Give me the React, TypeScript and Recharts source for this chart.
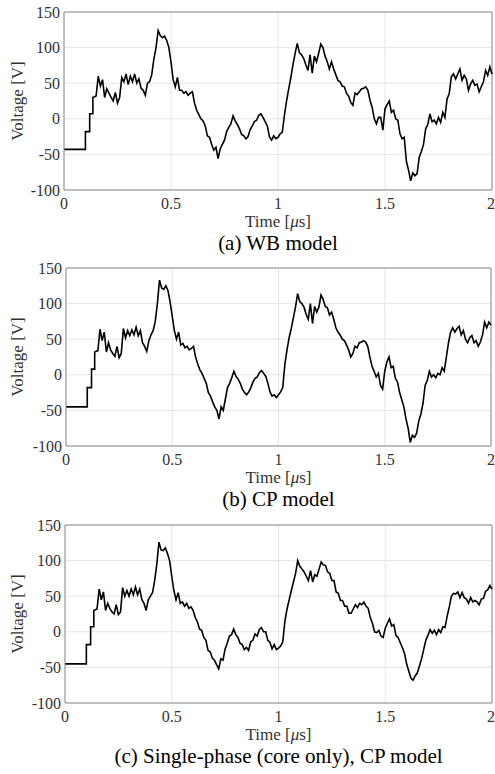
import React from "react";
import {
  LineChart,
  Line,
  XAxis,
  YAxis,
  CartesianGrid,
  ReferenceLine,
} from "recharts";

// time axis in microseconds (the first points trace the staircase at the start)
const timeUs = [
  0, 0.1, 0.1, 0.12, 0.12, 0.135, 0.135, 0.15,
  0.16, 0.17, 0.18, 0.19,
  0.2, 0.21, 0.22, 0.23, 0.24, 0.25, 0.26, 0.27, 0.28, 0.29,
  0.3, 0.31, 0.32, 0.33, 0.34, 0.35, 0.36, 0.37, 0.38, 0.39,
  0.4, 0.41, 0.42, 0.43, 0.44, 0.45, 0.46, 0.47, 0.48, 0.49,
  0.5, 0.51, 0.52, 0.53, 0.54, 0.55, 0.56, 0.57, 0.58, 0.59,
  0.6, 0.61, 0.62, 0.63, 0.64, 0.65, 0.66, 0.67, 0.68, 0.69,
  0.7, 0.71, 0.72, 0.73, 0.74, 0.75, 0.76, 0.77, 0.78, 0.79,
  0.8, 0.81, 0.82, 0.83, 0.84, 0.85, 0.86, 0.87, 0.88, 0.89,
  0.9, 0.91, 0.92, 0.93, 0.94, 0.95, 0.96, 0.97, 0.98, 0.99,
  1.0, 1.01, 1.02, 1.03, 1.04, 1.05, 1.06, 1.07, 1.08, 1.09,
  1.1, 1.11, 1.12, 1.13, 1.14, 1.15, 1.16, 1.17, 1.18, 1.19,
  1.2, 1.21, 1.22, 1.23, 1.24, 1.25, 1.26, 1.27, 1.28, 1.29,
  1.3, 1.31, 1.32, 1.33, 1.34, 1.35, 1.36, 1.37, 1.38, 1.39,
  1.4, 1.41, 1.42, 1.43, 1.44, 1.45, 1.46, 1.47, 1.48, 1.49,
  1.5, 1.51, 1.52, 1.53, 1.54, 1.55, 1.56, 1.57, 1.58, 1.59,
  1.6, 1.61, 1.62, 1.63, 1.64, 1.65, 1.66, 1.67, 1.68, 1.69,
  1.7, 1.71, 1.72, 1.73, 1.74, 1.75, 1.76, 1.77, 1.78, 1.79,
  1.8, 1.81, 1.82, 1.83, 1.84, 1.85, 1.86, 1.87, 1.88, 1.89,
  1.9, 1.91, 1.92, 1.93, 1.94, 1.95, 1.96, 1.97, 1.98, 1.99,
  2.0,
];

// (a) WB model
const wbVolt = [
  -43, -43, -18, -18, 7, 7, 30, 32,
  60, 46, 55, 30,
  42, 36, 30, 25, 37, 22, 30, 58, 52, 63,
  48, 60, 52, 63, 50, 56, 43, 40, 33, 50,
  52, 62, 84, 100, 124, 117, 114, 116, 110, 100,
  80, 55, 45, 58, 40, 40, 36, 38, 33, 36,
  38, 22, 12, 6, 0, -3, -10, -24, -26, -36,
  -44, -40, -56, -42, -36, -30, -18, -12, -7, 4,
  -3, -8, -14, -22, -24, -28, -25, -15, -10, -4,
  -2, 5, 7, 2, -4, -10, -25, -30, -24, -28,
  -26, -21, -19, 5, 25, 42, 58, 76, 92, 106,
  93, 90, 85, 76, 68, 90, 64, 88, 80, 92,
  105, 100, 88, 80, 70, 80, 70, 62, 54, 52,
  46, 45, 36, 32, 23, 19, 36, 34, 38, 42,
  43, 45, 40, 26, 16, 0, -7, 2, 2, -16,
  14, 20, 25, 9, 12, 0, -2, -21, -28, -26,
  -60, -72, -87, -76, -80, -77, -54, -46, -36, -14,
  -8, 7, -4, -2, -7, 2, -5, 9, 2, 28,
  35, 59, 63, 56, 63, 70, 54, 61, 56, 40,
  49, 54, 47, 49, 38, 45, 52, 68, 61, 73,
  63,
];

// (b) CP model
const cpVolt = [
  -45, -45, -18, -18, 8, 8, 32, 34,
  64, 48, 60, 32,
  45, 35, 30, 26, 40, 24, 30, 65, 52, 62,
  55, 63, 56, 67, 55, 62, 45, 40, 33, 48,
  56, 62, 75, 100, 133, 122, 120, 125, 118, 102,
  82, 62, 50, 60, 42, 44, 38, 40, 35, 37,
  40, 25, 15, 7, 2, -5, -12, -25, -30, -38,
  -45, -50, -62, -45, -50, -34, -18, -12, -4, 5,
  -2, -6, -12, -20, -25, -28, -24, -18, -10, -5,
  -3, 3, 6, 2, -2, -12, -24, -30, -28, -32,
  -28, -24, -18, 15, 35, 52, 65, 80, 95, 114,
  103, 100, 95, 85, 78, 100, 72, 96, 88, 95,
  112, 106, 96, 94, 84, 88, 78, 66, 60, 56,
  50, 48, 42, 35, 25, 30, 40, 38, 45, 46,
  48, 46, 40, 25, 12, 5, -3, 2, -15, -20,
  5, 18, 25, 10, 12, -5, -10, -25, -35, -45,
  -62, -75, -95, -85, -88, -82, -65, -55, -40, -15,
  -8, 5, -3, 0, -4, 2, 0, 10, 5, 25,
  45, 60, 66, 60, 65, 68, 56, 62, 50, 45,
  52, 55, 45, 48, 40, 46, 56, 74, 66, 74,
  70,
];

// (c) Single-phase (core only), CP model
const spVolt = [
  -45, -45, -18, -18, 7, 7, 30, 32,
  60, 45, 56, 30,
  40, 33, 28, 25, 38, 24, 28, 62, 50, 58,
  50, 60, 52, 63, 52, 60, 45, 40, 30, 45,
  50, 55, 72, 95, 126, 115, 114, 118, 110, 100,
  78, 58, 45, 55, 40, 42, 36, 40, 33, 35,
  30, 20, 14, 4, 2, -8, -12, -26, -28, -37,
  -40, -46, -52, -38, -40, -24, -16, -6, -4, 4,
  -4, -8, -16, -18, -25, -22, -26, -14, -12, -3,
  -6, 3, 6, 0, 0, -12, -15, -24, -18, -25,
  -23, -20, -14, 15, 32, 45, 58, 70, 82, 100,
  92, 88, 84, 78, 72, 86, 70, 80, 78, 88,
  98, 94, 93, 84, 82, 72, 72, 56, 54, 44,
  44, 36, 36, 26, 26, 32, 38, 34, 40, 38,
  42, 36, 33, 20, 12, 0, -1, 2, -6, -8,
  5, 12, 18, 8, 10, -5, -8, -15, -22, -30,
  -45, -55, -65, -68, -62, -58, -48, -38, -25, -12,
  -5, 3, -2, 2, -4, 3, -1, 7, 6, 22,
  35, 50, 54, 53, 56, 48, 55, 48, 46, 40,
  48, 42, 44, 42, 38, 46, 47, 57, 59, 65,
  60,
];

const xTicks = [0, 0.5, 1, 1.5, 2];
const yTicks = [-100, -50, 0, 50, 100, 150];
const captions = [
  "(a) WB model",
  "(b) CP model",
  "(c) Single-phase (core only), CP model",
];

const chartData = timeUs.map((t, i) => ({
  t,
  wb: wbVolt[i],
  cp: cpVolt[i],
  sp: spVolt[i],
}));

const FONT = "'Liberation Serif', 'Times New Roman', serif";
const AXIS = "#8c8c8c";
const PLOT_H = 178;
const CHART_H = 240;

// plot box per panel (page pixels)
const panels = [
  { key: "wb", top: 12, left: 64, right: 492, caption: captions[0] },
  { key: "cp", top: 268, left: 66, right: 491, caption: captions[1] },
  { key: "sp", top: 525, left: 65, right: 492, caption: captions[2] },
];

function Panel({ p }: { p: (typeof panels)[number] }) {
  const bottom = p.top + PLOT_H;
  const centerX = (p.left + p.right) / 2;
  return (
    <>
      <div style={{ position: "absolute", left: 0, top: p.top - 10 }}>
        <LineChart
          width={495}
          height={CHART_H}
          data={chartData}
          style={{ fontFamily: FONT }}
          margin={{ top: 10, right: 495 - p.right, bottom: CHART_H - 10 - PLOT_H - 30, left: p.left - 60 }}
        >
          <CartesianGrid stroke="#e6e6e6" strokeWidth={1} />
          <XAxis
            dataKey="t"
            type="number"
            domain={[0, 2]}
            ticks={xTicks}
            height={30}
            tickLine={false}
            tickSize={4}
            tickMargin={4}
            axisLine={{ stroke: AXIS }}
            tick={{ fill: "#333", fontSize: 16, fontFamily: FONT }}
          />
          <YAxis
            type="number"
            domain={[-100, 150]}
            ticks={yTicks}
            width={60}
            tickLine={false}
            tickSize={2}
            tickMargin={2}
            axisLine={{ stroke: AXIS }}
            tick={{ fill: "#333", fontSize: 16, fontFamily: FONT }}
          />
          <ReferenceLine y={150} stroke={AXIS} />
          <ReferenceLine x={2} stroke={AXIS} />
          <Line
            type="linear"
            dataKey={p.key}
            stroke="#000"
            strokeWidth={1.6}
            dot={false}
            isAnimationActive={false}
          />
        </LineChart>
      </div>
      <div
        style={{
          position: "absolute",
          left: 18,
          top: (p.top + bottom) / 2,
          transform: "translate(-50%, -50%) rotate(-90deg)",
          whiteSpace: "nowrap",
          fontFamily: FONT,
          fontSize: 17,
          color: "#333",
        }}
      >
        Voltage [V]
      </div>
      <div
        style={{
          position: "absolute",
          left: centerX,
          top: bottom + 32,
          transform: "translate(-50%, -50%)",
          whiteSpace: "nowrap",
          fontFamily: FONT,
          fontSize: 17,
          color: "#333",
        }}
      >
        Time [<i>μ</i>s]
      </div>
      <div
        style={{
          position: "absolute",
          left: centerX,
          top: bottom + 53,
          transform: "translate(-50%, -50%)",
          whiteSpace: "nowrap",
          fontFamily: FONT,
          fontSize: 21,
          color: "#000",
        }}
      >
        {p.caption}
      </div>
    </>
  );
}

export default function App() {
  return (
    <div
      style={{
        position: "absolute",
        left: 0,
        top: 0,
        width: 495,
        height: 774,
        background: "#fff",
        overflow: "hidden",
      }}
    >
      {panels.map((p) => (
        <Panel key={p.key} p={p} />
      ))}
    </div>
  );
}
